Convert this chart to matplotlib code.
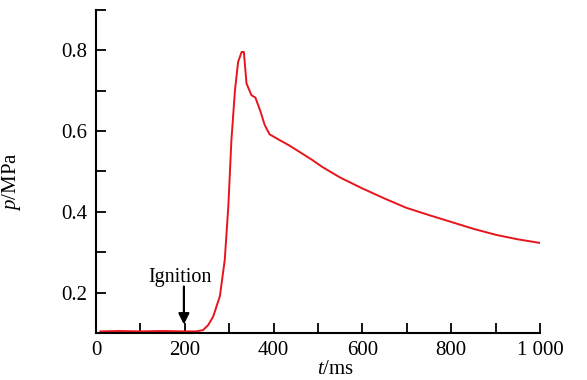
import numpy as np
import matplotlib.pyplot as plt
from matplotlib.ticker import MultipleLocator, FuncFormatter

plt.rcParams['font.family'] = ['Liberation Serif', 'DejaVu Serif']
plt.rcParams['mathtext.fontset'] = 'custom'
plt.rcParams['mathtext.rm'] = 'Liberation Serif'
plt.rcParams['mathtext.it'] = 'Liberation Serif:italic'

# pressure trace
t = [10, 50, 100, 150, 200, 225, 241, 253, 264, 279, 290, 298, 305, 313,
     320, 328, 333, 339, 350, 359, 370, 380, 391, 410, 436, 485, 510, 550,
     598, 650, 699, 750, 800, 850, 901, 950, 1000]
p = [0.104, 0.105, 0.104, 0.105, 0.104, 0.104, 0.107, 0.12, 0.141, 0.191,
     0.281, 0.413, 0.578, 0.701, 0.771, 0.796, 0.796, 0.718, 0.689, 0.683,
     0.65, 0.615, 0.592, 0.58, 0.564, 0.53, 0.511, 0.485, 0.459, 0.433,
     0.41, 0.392, 0.375, 0.358, 0.343, 0.332, 0.323]

fig = plt.figure(figsize=(5.87, 3.80), dpi=100)
ax = fig.add_axes([0.1635, 0.1237, 0.7565, 0.85])

ax.plot(t, p, color='#e8141c', lw=1.4)

ax.annotate('', xy=(198, 0.121), xytext=(198, 0.215),
            arrowprops=dict(arrowstyle='-|>', color='k', lw=1.6,
                            mutation_scale=16, shrinkA=0, shrinkB=0))
ax.text(190, 0.227, 'Ignition', ha='center', va='baseline', fontsize=14.5)

ax.set_xlim(0, 1000)
ax.set_ylim(0.1, 0.9)
ax.xaxis.set_major_locator(MultipleLocator(200))
ax.xaxis.set_minor_locator(MultipleLocator(100))
ax.yaxis.set_major_locator(MultipleLocator(0.2))
ax.yaxis.set_minor_locator(MultipleLocator(0.1))
ax.xaxis.set_major_formatter(FuncFormatter(
    lambda v, pos: '{:,.0f}'.format(v).replace(',', ' ')))
ax.yaxis.set_major_formatter(FuncFormatter(lambda v, pos: '{:.1f}'.format(v)))

for s in ['top', 'right']:
    ax.spines[s].set_visible(False)
for s in ['left', 'bottom']:
    ax.spines[s].set_linewidth(1.5)

ax.tick_params(which='both', direction='in', length=7, width=1.3,
               labelsize=15, pad=6)

ax.set_xlabel(r'$t$/ms', fontsize=15)
ax.xaxis.set_label_coords(0.54, -0.085)
ax.set_ylabel(r'$p$/MPa', fontsize=15)
ax.yaxis.set_label_coords(-0.165, 0.47)

fig.savefig('out.png', dpi=100)
